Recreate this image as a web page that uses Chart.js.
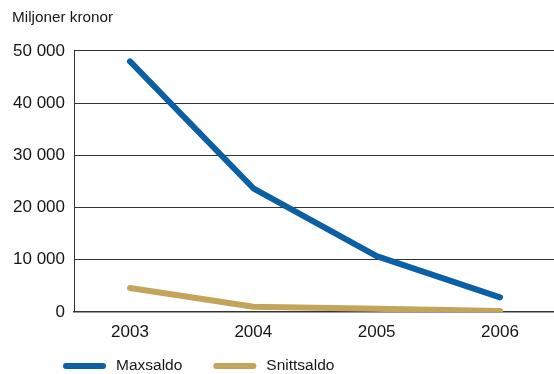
<!DOCTYPE html>
<html>
<head>
<meta charset="utf-8">
<script src="https://cdn.jsdelivr.net/npm/chart.js@4.4.0/dist/chart.umd.min.js"></script>
<style>
  html, body { margin: 0; padding: 0; background: #fff; }
  #wrap { width: 554px; height: 374px; position: relative; }
</style>
</head>
<body>
<div id="wrap"><canvas id="c"></canvas></div>
<script>
// Yearly balances, million SEK
const years = [2003, 2004, 2005, 2006];
const maxsaldo = [48000, 23700, 10700, 2800];
const snittsaldo = [4600, 1000, 600, 200];
const yTickValues = [0, 10000, 20000, 30000, 40000, 50000];
const seriesNames = ['Maxsaldo', 'Snittsaldo'];
const unitLabel = 'Miljoner kronor';

const BLUE = '#0b5fa5';
const GOLD = '#c4a45a';
const INK = '#161616';
const RULE = '#333333';
const FONT = '"Liberation Sans", Arial, Helvetica, sans-serif';

function groupThousands(v) {
  return String(v).replace(/\B(?=(\d{3})+(?!\d))/g, ' ');
}

function toPoints(values) {
  return years.map((yr, i) => ({ x: yr, y: values[i] }));
}

// Legend drawn below the axis: short thick line + series name
const bottomLegend = {
  id: 'bottomLegend',
  afterDraw(chart) {
    const ctx = chart.ctx;
    ctx.save();
    ctx.font = '15.5px ' + FONT;
    ctx.textBaseline = 'middle';
    ctx.textAlign = 'left';
    const y = 366;
    let x = 66;
    chart.data.datasets.forEach(ds => {
      ctx.strokeStyle = ds.borderColor;
      ctx.lineWidth = 6;
      ctx.lineCap = 'round';
      ctx.beginPath();
      ctx.moveTo(x, y);
      ctx.lineTo(x + 37, y);
      ctx.stroke();
      ctx.fillStyle = INK;
      ctx.fillText(ds.label, x + 50, y);
      x += 50 + ctx.measureText(ds.label).width + 34;
    });
    ctx.restore();
  }
};

new Chart(document.getElementById('c'), {
  type: 'line',
  data: {
    datasets: [
      {
        label: seriesNames[0],
        data: toPoints(maxsaldo),
        borderColor: BLUE,
        backgroundColor: BLUE,
        borderWidth: 6,
        borderCapStyle: 'round',
        borderJoinStyle: 'round',
        pointRadius: 0,
        tension: 0
      },
      {
        label: seriesNames[1],
        data: toPoints(snittsaldo),
        borderColor: GOLD,
        backgroundColor: GOLD,
        borderWidth: 6,
        borderCapStyle: 'round',
        borderJoinStyle: 'round',
        pointRadius: 0,
        tension: 0
      }
    ]
  },
  options: {
    responsive: true,
    maintainAspectRatio: false,
    animation: false,
    layout: { padding: { left: 12, right: 0, top: 0, bottom: 0 } },
    plugins: {
      legend: { display: false },
      tooltip: { enabled: false },
      title: {
        display: true,
        text: unitLabel,
        align: 'start',
        color: INK,
        font: { family: FONT, size: 15.3, weight: 'normal' },
        padding: { top: 9, bottom: 23.6 }
      }
    },
    scales: {
      x: {
        type: 'linear',
        min: 2002.546,
        max: 2006.438,
        afterBuildTicks: s => { s.ticks = years.map(v => ({ value: v })); },
        afterFit: s => { s.height = 62; },
        grid: { display: false, drawTicks: false },
        border: { display: true, color: RULE, width: 1.5 },
        ticks: {
          color: INK,
          padding: 10,
          maxRotation: 0,
          font: { family: FONT, size: 17 },
          callback: v => String(v)
        }
      },
      y: {
        min: 0,
        max: 50000,
        afterBuildTicks: s => { s.ticks = yTickValues.map(v => ({ value: v })); },
        afterFit: s => { s.width = 62; },
        grid: { color: RULE, lineWidth: 1, drawTicks: false },
        border: { display: true, color: RULE, width: 1 },
        ticks: {
          color: INK,
          padding: 9,
          font: { family: FONT, size: 17 },
          callback: v => groupThousands(v)
        }
      }
    }
  },
  plugins: [bottomLegend]
});
</script>
</body>
</html>
